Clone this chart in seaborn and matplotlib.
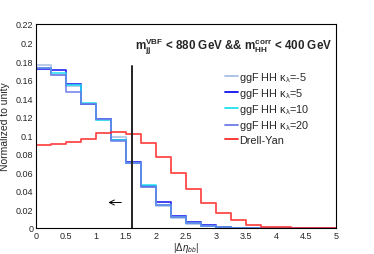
import numpy as np
import pandas as pd
import matplotlib
matplotlib.use('Agg')
import matplotlib.pyplot as plt
from matplotlib.ticker import MultipleLocator
from matplotlib.lines import Line2D
import seaborn as sns

# bins of |delta eta_bb|
bin_width = 0.25
x_range = (0, 5)
centers = np.arange(0, 5, bin_width) + bin_width / 2

# normalized distributions
kl_m5 = [0.176, 0.1653, 0.1527, 0.1336, 0.1166, 0.0985, 0.0704, 0.0444, 0.0238, 0.0108,
         0.0047, 0.0020, 0.0008, 0.0003, 0.0001, 0, 0, 0, 0, 0]
kl_5 = [0.1715, 0.170, 0.155, 0.1336, 0.1177, 0.095, 0.071, 0.045, 0.0278, 0.013,
        0.0065, 0.0029, 0.0012, 0.0004, 0.0002, 0, 0, 0, 0, 0]
kl_10 = [0.1725, 0.167, 0.154, 0.135, 0.116, 0.0953, 0.0704, 0.0462, 0.0253, 0.012,
         0.0055, 0.0024, 0.001, 0.0004, 0.0001, 0, 0, 0, 0, 0]
kl_20 = [0.172, 0.1646, 0.147, 0.1336, 0.117, 0.0939, 0.0704, 0.0444, 0.0253, 0.012,
         0.0055, 0.0022, 0.0009, 0.0003, 0.0001, 0, 0, 0, 0, 0]
drell_yan = [0.0895, 0.0905, 0.093, 0.0964, 0.102, 0.104, 0.101, 0.092, 0.077, 0.059,
             0.042, 0.0274, 0.016, 0.0083, 0.0036, 0.0015, 0.0007, 0.0004, 0.0002, 0.0001]

labels = [r'ggF HH $\mathrm{\kappa}_{\mathrm{\lambda}}$=-5',
          r'ggF HH $\mathrm{\kappa}_{\mathrm{\lambda}}$=5',
          r'ggF HH $\mathrm{\kappa}_{\mathrm{\lambda}}$=10',
          r'ggF HH $\mathrm{\kappa}_{\mathrm{\lambda}}$=20', 'Drell-Yan']
colors = ['#a8bde6', '#1010f0', '#20e0f0', '#6c7ce8', '#ff2a2a']
series = [kl_m5, kl_5, kl_10, kl_20, drell_yan]

cut = 1.6
cut_top = 0.175

sns.set_style('white')
plt.rcParams['font.family'] = ['Liberation Sans', 'DejaVu Sans']
plt.rcParams['mathtext.fontset'] = 'custom'
plt.rcParams['mathtext.rm'] = 'Liberation Sans'
plt.rcParams['mathtext.it'] = 'Liberation Sans:italic'
plt.rcParams['mathtext.bf'] = 'Liberation Sans:bold'

fig = plt.figure(figsize=(3.74, 2.55), dpi=100)
ax = fig.add_axes([0.096, 0.102, 0.802, 0.80])

for vals, col in zip(series, colors):
    df = pd.DataFrame({'x': centers, 'w': vals})
    sns.histplot(data=df, x='x', weights='w', binwidth=bin_width, binrange=x_range,
                 element='step', fill=False, color=col, linewidth=1.3, alpha=0.85, ax=ax)

ax.plot([cut, cut], [0, cut_top], color='#222222', lw=1.4)
ax.annotate('', xy=(1.16, 0.0275), xytext=(1.47, 0.0275),
            arrowprops=dict(arrowstyle='->', lw=0.7, color='k', mutation_scale=9))

ax.text(0.988, 0.895,
        r'$\mathbf{m_{jj}^{VBF}}$ < 880 GeV && $\mathbf{m_{HH}^{corr}}$ < 400 GeV',
        transform=ax.transAxes, ha='right', va='center', fontsize=8.4, fontweight='bold')

handles = [Line2D([0], [0], color=c, lw=1.3) for c in colors]
ax.legend(handles, labels, loc='upper left', bbox_to_anchor=(0.63, 0.775), frameon=False,
          fontsize=7.8, handlelength=1.2, handletextpad=0.15, labelspacing=0.2,
          borderaxespad=0, borderpad=0)

ax.set_xlim(0, 5)
ax.set_ylim(0, 0.22)
ax.set_xticks(np.arange(0, 5.01, 0.5))
ax.set_xticklabels(['0', '0.5', '1', '1.5', '2', '2.5', '3', '3.5', '4', '4.5', '5'])
ax.set_yticks(np.arange(0, 0.2201, 0.02))
ax.set_yticklabels(['0', '0.02', '0.04', '0.06', '0.08', '0.1', '0.12', '0.14', '0.16',
                    '0.18', '0.2', '0.22'])
ax.xaxis.set_minor_locator(MultipleLocator(0.1))
ax.yaxis.set_minor_locator(MultipleLocator(0.004))
ax.tick_params(which='both', direction='in', top=False, right=False, labelsize=6.5,
               width=0.6, color='#555555', pad=2)
ax.tick_params(which='major', length=6)
ax.tick_params(which='minor', length=3)
for s in ax.spines.values():
    s.set_linewidth(0.8)
    s.set_color('black')

ax.set_xlabel(r'|$\Delta\eta_{bb}$|', fontsize=7, labelpad=0)
ax.set_ylabel('Normalized to unity', fontsize=7.5, labelpad=4)

fig.savefig('out.png', dpi=100)
